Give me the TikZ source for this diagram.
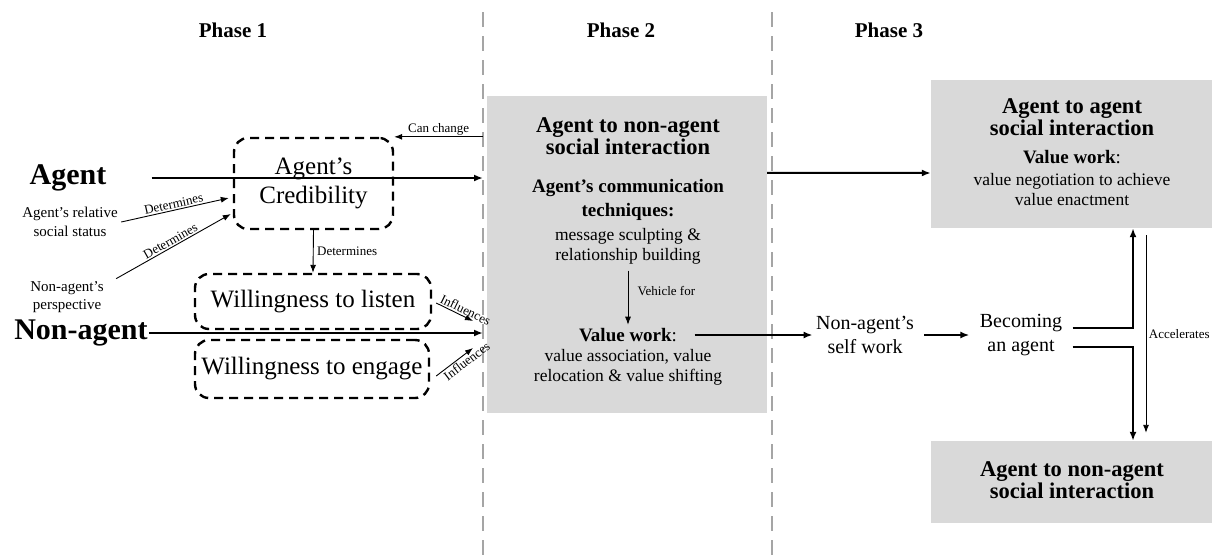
\documentclass[tikz,border=0pt]{standalone}
\usepackage{fontspec}
\setmainfont{Liberation Serif}
\usepackage{tikz}
\usetikzlibrary{
    arrows.meta,
    positioning,
    calc
}
\definecolor{boxgray}{RGB}{217,217,217}
\definecolor{sepgray}{RGB}{165,165,165}
\tikzstyle{phase} = [
    font=\fontsize{21}{24}\selectfont\bfseries
]
\tikzstyle{actor} = [
    font=\fontsize{30}{32}\selectfont\bfseries,
    inner sep=1pt
]
\tikzstyle{graybox} = [
    rectangle,
    fill=boxgray,
    draw=none
]
\tikzstyle{dashbox} = [
    rectangle,
    rounded corners=14pt,
    draw=black,
    line width=2.4pt,
    dash pattern=on 9pt off 6pt,
    align=center,
    font=\fontsize{25}{29}\selectfont
]
\tikzstyle{heading} = [
    align=center,
    font=\fontsize{22.5}{22}\selectfont\bfseries
]
\tikzstyle{subhead} = [
    align=center,
    font=\fontsize{19}{24}\selectfont\bfseries
]
\tikzstyle{body} = [
    align=center,
    font=\fontsize{17.5}{20}\selectfont
]
\tikzstyle{stage} = [
    align=center,
    font=\fontsize{20}{24}\selectfont
]
\tikzstyle{note} = [
    align=center,
    font=\fontsize{15}{18.5}\selectfont
]
\tikzstyle{lbl} = [
    font=\fontsize{13}{14}\selectfont,
    inner sep=1.5pt
]
\tikzstyle{mainarrow} = [
    -{Latex[length=9pt,width=7pt]},
    line width=2pt
]
\tikzstyle{thinarrow} = [
    -{Latex[length=8pt,width=6pt]},
    line width=0.9pt
]
\tikzstyle{sepline} = [
    draw=sepgray,
    line width=2.2pt,
    dash pattern=on 15pt off 9pt
]

\begin{document}
\begin{tikzpicture}[x=1pt, y=-1pt]
    \useasboundingbox (0,0) rectangle (1215,558);

    % Phase separators
    \coordinate (p2top) at (483,12);
    \coordinate (p2bot) at (483,558);
    \coordinate (p3top) at (772,12);
    \coordinate (p3bot) at (772,558);
    \draw[sepline] (p2top) -- (p2bot);
    \draw[sepline] (p3top) -- (p3bot);

    \node[phase] (ph1) at (233,30) {Phase 1};
    \node[phase] (ph2) at (621,30) {Phase 2};
    \node[phase] (ph3) at (889,30) {Phase 3};

    % Gray boxes
    \node[graybox, minimum width=280pt, minimum height=317pt] (box2) at (627,254.5) {};
    \node[graybox, minimum width=281pt, minimum height=148pt] (agentbox) at (1071.5,154) {};
    \node[graybox, minimum width=281pt, minimum height=82pt] (nonagentbox) at (1071.5,482) {};

    % Phase 1
    \node[actor] (agent) at (68,178) {Agent};
    \node[actor] (nonagent) at (81,333) {Non-agent};
    \node[note] (status) at (70,222) {Agent’s relative\\social status};
    \node[note] (persp) at (67,297) {Non-agent’s\\perspective};

    \node[dashbox, minimum width=159pt, minimum height=91pt] (cred) at (313.5,183.5) {Agent’s\\Credibility};
    \node[dashbox, minimum width=236pt, minimum height=55pt] (listen) at (313,301.5) {Willingness to listen};
    \node[dashbox, minimum width=234pt, minimum height=58pt] (engage) at (312,369) {Willingness to engage};

    % Phase 2
    \node[heading] (head2) at (628,136) {Agent to non-agent\\social interaction};
    \node[subhead] (tech) at (628,200) {Agent’s communication\\techniques:};
    \node[body] (sculpt) at (628,246) {message sculpting \&\\relationship building};
    \node[subhead] (vwork) at (628,335) {Value work\mdseries:};
    \node[body] (shift) at (628,367) {value association, value\\relocation \& value shifting};

    % Phase 3
    \node[heading] (head3) at (1072,117) {Agent to agent\\social interaction};
    \node[subhead] (vwork3) at (1072,157) {Value work\mdseries:};
    \node[body] (enact) at (1072,190) {value negotiation to achieve\\value enactment};
    \node[heading] (head4) at (1072,480) {Agent to non-agent\\social interaction};
    \node[stage] (selfwork) at (865,335) {Non-agent’s\\self work};
    \node[stage] (becoming) at (1021,335) {Becoming\\an agent};

    % Arrows
    \draw[mainarrow] ([xshift=44pt]agent.east) -- (agent.east -| p2top);
    \draw[mainarrow] (nonagent.east) -- (nonagent.east -| p2top);
    \draw[thinarrow] (status.east) -- node[lbl, sloped, above] {Determines} ([xshift=-4pt,yshift=-14.5pt]cred.west);
    \draw[thinarrow] ([xshift=9pt,yshift=-1pt]persp.north east) -- node[lbl, sloped, above] {Determines} ([xshift=-2pt,yshift=-30.5pt]cred.west);
    \draw[thinarrow] (cred.north east -| p2top) -- node[lbl, above] {Can change} (cred.north east);
    \draw[thinarrow] (cred.south) -- node[lbl, right=2pt] {Determines} (listen.north);
    \draw[thinarrow] ([xshift=4pt,yshift=-1.5pt]listen.east) -- node[lbl, sloped, above, pos=0.72] {Influences} ([xshift=-10pt,yshift=-19.5pt]listen.east -| p2top);
    \draw[thinarrow] ([xshift=6pt,yshift=-7pt]engage.east) -- node[lbl, sloped, below, pos=0.72] {Influences} ([xshift=-10pt,yshift=21pt]engage.east -| p2top);

    \draw[thinarrow] ([yshift=-3pt]sculpt.south) -- (vwork.north);
    \node[lbl, anchor=west] (vehicle) at (636,291) {Vehicle for};

    \draw[mainarrow] ([xshift=14pt]vwork.east) -- (vwork.east -| selfwork.west);
    \draw[mainarrow] ([xshift=7pt]selfwork.east) -- ([xshift=-7pt]becoming.west);
    \draw[mainarrow] ([yshift=-77pt]box2.north east) -- ([yshift=-19pt]agentbox.west);

    \draw[mainarrow] ([xshift=7pt,yshift=7pt]becoming.east) -| ([xshift=61.5pt]agentbox.south);
    \draw[mainarrow] ([xshift=7pt,yshift=-12pt]becoming.east) -| ([xshift=61.5pt]nonagentbox.north);
    \draw[thinarrow, shorten <=7pt, shorten >=8pt] ([xshift=74.5pt]agentbox.south) -- node[lbl, right=1pt] (accel) {Accelerates} ([xshift=74.5pt]nonagentbox.north);
\end{tikzpicture}
\end{document}
